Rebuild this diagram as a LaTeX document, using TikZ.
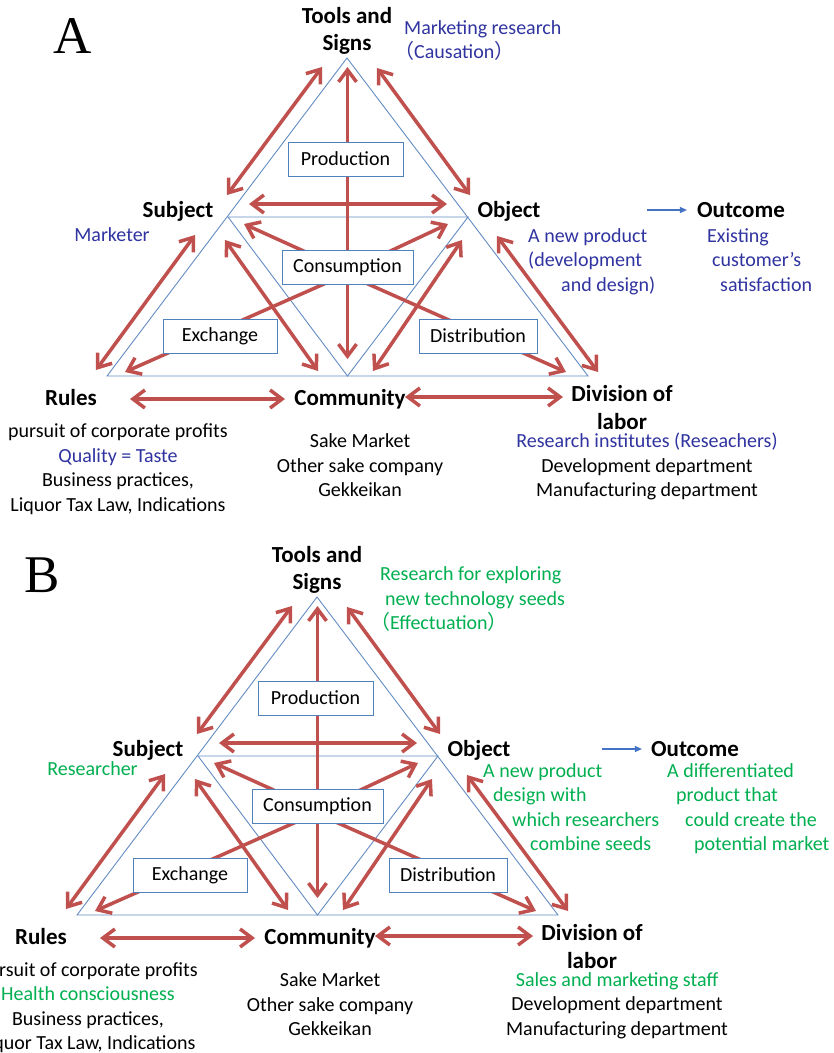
\documentclass[tikz,border=0pt]{standalone}
\usepackage{fontspec}
\setmainfont{Carlito}
\newfontfamily\cjk{Noto Sans CJK JP}
\newfontfamily\tnr{Liberation Serif}
\usetikzlibrary{arrows.meta}
\definecolor{arrred}{RGB}{192,80,77}
\definecolor{triblue}{RGB}{100,140,195}
\definecolor{boxblue}{RGB}{79,129,189}
\definecolor{txtblue}{RGB}{48,52,160}
\definecolor{txtgreen}{RGB}{0,176,80}
\definecolor{outblue}{RGB}{68,114,196}
\pgfdeclarelayer{paper}
\pgfdeclarelayer{bg}
\pgfsetlayers{paper,bg,main}
\tikzset{
  tri/.style={draw=triblue, line width=0.9pt},
  barb/.tip={Straight Barb[length=12pt,width=18pt]},
  rarrow/.style={draw=arrred, line width=3.5pt, -barb},
  rdarrow/.style={draw=arrred, line width=3.5pt, barb-barb},
  actbox/.style={draw=boxblue, fill=white, line width=1pt, minimum height=34pt, inner sep=0pt, font=\fontsize{20}{24}\selectfont},
  lab/.style={font=\bfseries\fontsize{23}{27}\selectfont, align=center, inner sep=0pt},
  txt/.style={font=\fontsize{20}{24.5}\selectfont, inner sep=0pt},
  outarrow/.style={draw=outblue, line width=1.2pt, -{Triangle[length=7pt,width=6pt]}},
  letter/.style={font=\tnr\fontsize{53}{53}\selectfont, inner sep=0pt}
}
\newcommand{\actpanel}[3]{%
\begin{scope}[shift={(#2,#3)}]
  \coordinate (#1T) at (347,58);
  \coordinate (#1S) at (228,217);
  \coordinate (#1O) at (468,217);
  \coordinate (#1L) at (107,376);
  \coordinate (#1M) at (347.5,376);
  \coordinate (#1R) at (588,376);
  \node[actbox, minimum width=115pt] (#1prod) at (345.5,159) {Production};
  \node[actbox, minimum width=131pt] (#1cons) at (347.5,267) {Consumption};
  \node[actbox, minimum width=114pt] (#1exch) at (220,336) {Exchange};
  \node[actbox, minimum width=118pt] (#1dist) at (478,336) {Distribution};
  \coordinate (#1a1e) at (347.5,67);
  \coordinate (#1a2e) at (347.5,359);
  \coordinate (#1a3s) at (249,204);   \coordinate (#1a3e) at (447,204);
  \coordinate (#1a4s) at (319,258);   \coordinate (#1a4e) at (244,224);
  \coordinate (#1a5s) at (375.5,258); \coordinate (#1a5e) at (448,224);
  \coordinate (#1a6s) at (333,280);   \coordinate (#1a6e) at (125,372);
  \coordinate (#1a7s) at (359,280);   \coordinate (#1a7e) at (566,372);
  \coordinate (#1a8s) at (225,240);   \coordinate (#1a8e) at (318,371);
  \coordinate (#1a9s) at (462,240);   \coordinate (#1a9e) at (373,371);
  \coordinate (#1a10s) at (195,235);  \coordinate (#1a10e) at (96,370);
  \coordinate (#1a11s) at (497,236);  \coordinate (#1a11e) at (598,372);
  \coordinate (#1a12s) at (322,67);   \coordinate (#1a12e) at (227,195);
  \coordinate (#1a13s) at (377,68);   \coordinate (#1a13e) at (470,195);
  \coordinate (#1a14s) at (130,399);  \coordinate (#1a14e) at (285,399);
  \coordinate (#1a15s) at (405,397);  \coordinate (#1a15e) at (563,397);
  \begin{pgfonlayer}{bg}
    \draw[tri] (#1T) -- (#1L) -- (#1R) -- cycle;
    \draw[tri] (#1S) -- (#1O) -- (#1M) -- cycle;
    \draw[rarrow] (#1cons.north) -- (#1a1e);
    \draw[rarrow] (#1cons.south) -- (#1a2e);
    \draw[rdarrow] (#1a3s) -- (#1a3e);
    \draw[rarrow] (#1a4s) -- (#1a4e);
    \draw[rarrow] (#1a5s) -- (#1a5e);
    \draw[rarrow] (#1a6s) -- (#1a6e);
    \draw[rarrow] (#1a7s) -- (#1a7e);
    \draw[rdarrow] (#1a8s) -- (#1a8e);
    \draw[rdarrow] (#1a9s) -- (#1a9e);
    \draw[rdarrow] (#1a10s) -- (#1a10e);
    \draw[rdarrow] (#1a11s) -- (#1a11e);
    \draw[rdarrow] (#1a12s) -- (#1a12e);
    \draw[rdarrow] (#1a13s) -- (#1a13e);
    \draw[rdarrow] (#1a14s) -- (#1a14e);
    \draw[rdarrow] (#1a15s) -- (#1a15e);
  \end{pgfonlayer}
  \node[lab] (#1tools) at (347,30.5) {Tools and\\Signs};
  \node[lab, anchor=base] (#1subj) at (178,217) {Subject};
  \node[lab, anchor=base] (#1obj) at (509,217) {Object};
  \node[lab, anchor=base] (#1rules) at (71,405) {Rules};
  \node[lab, anchor=base] (#1comm) at (350,405) {Community};
  \node[lab, font=\bfseries\fontsize{23}{28}\selectfont] (#1div) at (622,408) {Division of\\labor};
  \node[txt, align=center] (#1commd) at (360,465.5) {Sake Market\\Other sake company\\Gekkeikan};
\end{scope}}

\begin{document}
\begin{tikzpicture}[x=1pt,y=-1pt]
\useasboundingbox (0,0) rectangle (834,1053);
\begin{pgfonlayer}{paper}
\fill[white] (0,0) rectangle (834,1053);
\end{pgfonlayer}

% ---------------- Panel A ----------------
\node[letter] (letA) at (73,36) {A};
\actpanel{A}{0}{0}
\node[txt, text=txtblue, anchor=west, align=left] (Amr) at (404,40.5) {Marketing research\\\hspace*{-10pt}{\cjk （}Causation{\cjk ）}};
\node[txt, text=txtblue] (Amark) at (112,235) {Marketer};
\node[lab, anchor=base] (Aout) at (741,217) {Outcome};
\coordinate (Aoutst) at (647,210);
\draw[outarrow] (Aoutst) -- (Aout.west |- Aoutst) [shorten >=10pt];
\node[txt, text=txtblue, anchor=west, align=left] (Aobjd) at (528,261.5) {A new product\\(development\\\hspace*{33pt}and design)};
\node[txt, text=txtblue, anchor=west, align=left] (Aoutd) at (707,260) {Existing\\\hspace*{5pt}customer’s\\\hspace*{13pt}satisfaction};
\node[txt, align=center] (Arulesd) at (118,469) {pursuit of corporate profits\\\textcolor{txtblue}{Quality = Taste}\\Business practices,\\Liquor Tax Law, Indications};
\node[txt, align=center] (Adivd) at (647,466.5) {\textcolor{txtblue}{Research institutes (Reseachers)}\\Development department\\Manufacturing department};

% ---------------- Panel B ----------------
\node[letter] (letB) at (42,575) {B};
\actpanel{B}{-30}{539}
\node[txt, text=txtgreen, anchor=west, align=left] (Bres) at (380,599.5) {Research for exploring\\\hspace*{5pt}new technology seeds\\\hspace*{-10pt}{\cjk （}Effectuation{\cjk ）}};
\node[txt, text=txtgreen] (Bresr) at (92.5,769) {Researcher};
\node[lab, anchor=base] (Bout) at (695,756) {Outcome};
\coordinate (Boutst) at (602,749);
\draw[outarrow] (Boutst) -- (Bout.west |- Boutst) [shorten >=9pt];
\node[txt, text=txtgreen, anchor=west, align=left] (Bobjd) at (483,807) {A new product\\\hspace*{10pt}design with\\\hspace*{29pt}which researchers\\\hspace*{47pt}combine seeds};
\node[txt, text=txtgreen, anchor=west, align=left] (Boutd) at (667,808.5) {A differentiated\\\hspace*{9pt}product that\\\hspace*{18pt}could create the\\\hspace*{27pt}potential market};
\node[txt, align=center] (Brulesd) at (88,1007.5) {pursuit of corporate profits\\\textcolor{txtgreen}{Health consciousness}\\Business practices,\\Liquor Tax Law, Indications};
\node[txt, align=center] (Bdivd) at (617,1005.5) {\textcolor{txtgreen}{Sales and marketing staff}\\Development department\\Manufacturing department};
\end{tikzpicture}
\end{document}
